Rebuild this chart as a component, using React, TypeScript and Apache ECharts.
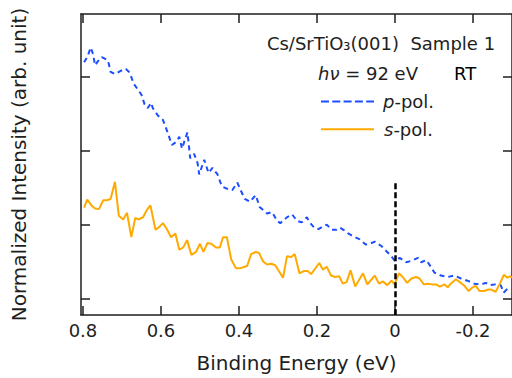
import React, { useEffect, useRef } from 'react';
import * as echarts from 'echarts';

const xTicks = [0.8, 0.6, 0.4, 0.2, 0, -0.2];
const yTicks = [0, 1, 2, 3];
const X_MIN = -0.3;
const X_MAX = 0.805;
const Y_MIN = -0.225;
const Y_MAX = 3.855;

const fermiLevel = 0;
const fermiMarkerTop = 1.56;

const pEnergy = [0.797, 0.789, 0.78, 0.774, 0.769, 0.761, 0.752, 0.744, 0.736, 0.729,
  0.718, 0.701, 0.69, 0.68, 0.67, 0.659, 0.65, 0.642, 0.634, 0.625,
  0.621, 0.608, 0.595, 0.583, 0.572, 0.561, 0.553, 0.546, 0.538, 0.532,
  0.525, 0.515, 0.506, 0.502, 0.489, 0.478, 0.468, 0.455, 0.444, 0.428,
  0.417, 0.404, 0.396, 0.385, 0.372, 0.357, 0.347, 0.336, 0.328, 0.315,
  0.302, 0.294, 0.277, 0.264, 0.251, 0.239, 0.226, 0.217, 0.207, 0.196,
  0.183, 0.175, 0.162, 0.15, 0.141, 0.132, 0.12, 0.107, 0.09, 0.075,
  0.06, 0.052, 0.035, 0.022, 0.009, 0.001, -0.012, -0.029, -0.042, -0.059,
  -0.067, -0.08, -0.088, -0.101, -0.118, -0.135, -0.152, -0.169, -0.186, -0.203,
  -0.22, -0.233, -0.245, -0.258, -0.271, -0.279, -0.288, -0.298];
const pIntensity = [3.2, 3.27, 3.4, 3.31, 3.16, 3.22, 3.27, 3.25, 3.23, 3.07,
  3.04, 3.09, 3.11, 3.06, 2.91, 2.83, 2.76, 2.63, 2.58, 2.65,
  2.58, 2.48, 2.42, 2.25, 2.08, 2.12, 2.19, 2.03, 2.16, 2.25,
  1.9, 1.96, 1.83, 1.68, 1.88, 1.7, 1.77, 1.68, 1.52, 1.48,
  1.47, 1.57, 1.47, 1.35, 1.31, 1.4, 1.24, 1.19, 1.15, 1.17,
  1.05, 1.02, 1.1, 1.14, 1.05, 1.03, 1.1, 1.02, 0.96, 0.94,
  0.98, 1.0, 0.93, 0.93, 0.96, 0.93, 0.88, 0.84, 0.8, 0.73,
  0.75, 0.77, 0.71, 0.64, 0.57, 0.51, 0.55, 0.49, 0.51, 0.55,
  0.49, 0.52, 0.46, 0.35, 0.31, 0.29, 0.31, 0.27, 0.24, 0.2,
  0.19, 0.21, 0.18, 0.19, 0.18, 0.08, 0.13, 0.12];

const sEnergy = [0.797, 0.789, 0.778, 0.769, 0.759, 0.748, 0.738, 0.729, 0.718, 0.708,
  0.697, 0.687, 0.676, 0.666, 0.657, 0.646, 0.636, 0.627, 0.614, 0.604,
  0.595, 0.585, 0.574, 0.563, 0.553, 0.543, 0.533, 0.522, 0.51, 0.5,
  0.491, 0.481, 0.471, 0.459, 0.449, 0.441, 0.431, 0.42, 0.408, 0.396,
  0.379, 0.369, 0.357, 0.349, 0.338, 0.328, 0.317, 0.307, 0.287, 0.277,
  0.266, 0.257, 0.245, 0.234, 0.224, 0.215, 0.194, 0.185, 0.175, 0.164,
  0.154, 0.143, 0.134, 0.124, 0.114, 0.102, 0.082, 0.071, 0.058, 0.052,
  0.041, 0.031, 0.02, 0.009, 0.001, -0.01, -0.02, -0.031, -0.042, -0.054,
  -0.063, -0.074, -0.084, -0.095, -0.105, -0.115, -0.127, -0.135, -0.143, -0.156,
  -0.169, -0.178, -0.189, -0.199, -0.207, -0.217, -0.229, -0.239, -0.247, -0.258,
  -0.269, -0.279, -0.288, -0.295, -0.3];
const sIntensity = [1.23, 1.34, 1.26, 1.22, 1.21, 1.33, 1.33, 1.35, 1.58, 1.12,
  1.07, 1.16, 0.83, 1.09, 1.07, 1.1, 1.2, 1.26, 0.93, 0.97,
  1.02, 0.94, 0.83, 0.88, 0.66, 0.69, 0.79, 0.59, 0.63, 0.74,
  0.63, 0.75, 0.74, 0.69, 0.69, 0.83, 0.83, 0.53, 0.41, 0.41,
  0.44, 0.6, 0.63, 0.62, 0.5, 0.46, 0.47, 0.45, 0.28, 0.57,
  0.56, 0.6, 0.34, 0.37, 0.37, 0.33, 0.48, 0.39, 0.43, 0.31,
  0.29, 0.3, 0.2, 0.22, 0.38, 0.16, 0.34, 0.19, 0.27, 0.31,
  0.2, 0.23, 0.18, 0.24, 0.19, 0.34, 0.29, 0.21, 0.27, 0.29,
  0.27, 0.19, 0.2, 0.19, 0.19, 0.16, 0.19, 0.15, 0.2, 0.26,
  0.21, 0.17, 0.1, 0.15, 0.17, 0.1, 0.1, 0.12, 0.12, 0.09,
  0.2, 0.32, 0.28, 0.3, 0.28];

const BLUE = '#1c4dff';
const ORANGE = '#ffaa00';
const INK = '#1e1e1e';
const FONT = '"DejaVu Sans", sans-serif';

function fmtTick(v: number): string {
  if (Math.abs(v) < 1e-9) return '0';
  return v.toFixed(1);
}

export default function App() {
  const ref = useRef<HTMLDivElement>(null);
  useEffect(() => {
    if (!ref.current) return;
    const chart = echarts.init(ref.current, undefined, { renderer: 'svg' });
    const axisLineStyle = { color: INK, width: 1.5 };
    const xCommon = {
      type: 'value' as const,
      min: X_MIN,
      max: X_MAX,
      inverse: true,
      splitLine: { show: false },
      axisLine: { show: true, onZero: false, lineStyle: axisLineStyle },
      axisTick: { show: true, inside: true, length: 9, customValues: xTicks, lineStyle: axisLineStyle },
    };
    const yCommon = {
      type: 'value' as const,
      min: Y_MIN,
      max: Y_MAX,
      splitLine: { show: false },
      axisLine: { show: true, onZero: false, lineStyle: axisLineStyle },
      axisTick: { show: true, inside: true, length: 9, customValues: yTicks, lineStyle: axisLineStyle },
      axisLabel: { show: false },
    };
    const textBase = { fontFamily: FONT, fontSize: 18, fill: INK };
    chart.setOption({
      animation: false,
      grid: { left: 81, right: -3, top: 14, bottom: 56 },
      xAxis: [
        {
          ...xCommon,
          position: 'bottom',
          axisLabel: {
            customValues: xTicks,
            formatter: (v: number) => fmtTick(v),
            fontFamily: FONT,
            fontSize: 18,
            color: INK,
            margin: 6,
          },
          name: 'Binding Energy (eV)',
          nameLocation: 'middle',
          nameGap: 38,
          nameTextStyle: { fontFamily: FONT, fontSize: 20, color: INK },
        },
        { ...xCommon, position: 'top', axisLabel: { show: false } },
      ],
      yAxis: [
        {
          ...yCommon,
          position: 'left',
          name: 'Normalized Intensity (arb. unit)',
          nameLocation: 'middle',
          nameGap: 52,
          nameTextStyle: { fontFamily: FONT, fontSize: 20, color: INK },
        },
        { ...yCommon, position: 'right' },
      ],
      series: [
        {
          name: 'p-pol.',
          type: 'line',
          xAxisIndex: 0,
          yAxisIndex: 0,
          data: pEnergy.map((e, i) => [e, pIntensity[i]]),
          symbol: 'none',
          lineStyle: { color: BLUE, width: 2, type: [5, 4] },
          z: 3,
        },
        {
          name: 's-pol.',
          type: 'line',
          xAxisIndex: 0,
          yAxisIndex: 0,
          data: sEnergy.map((e, i) => [e, sIntensity[i]]),
          symbol: 'none',
          lineStyle: { color: ORANGE, width: 2 },
          z: 4,
          markLine: {
            silent: true,
            symbol: 'none',
            label: { show: false },
            lineStyle: { color: '#000', width: 2.5, type: [6, 3] },
            data: [[{ coord: [fermiLevel, fermiMarkerTop] }, { coord: [fermiLevel, Y_MIN] }]],
          },
        },
      ],
      graphic: [
        {
          type: 'text',
          x: 381,
          y: 43,
          style: { ...textBase, text: 'Cs/SrTiO₃(001)  Sample 1', align: 'center', verticalAlign: 'middle' },
        },
        {
          type: 'text',
          x: 318,
          y: 73,
          style: {
            ...textBase,
            text: '{i|hν} = 92 eV',
            align: 'left',
            verticalAlign: 'middle',
            rich: { i: { fontFamily: FONT, fontSize: 18, fontStyle: 'italic', fill: INK } },
          },
        },
        {
          type: 'text',
          x: 454,
          y: 73,
          style: { ...textBase, fill: '#000', text: 'RT', align: 'left', verticalAlign: 'middle' },
        },
        {
          type: 'line',
          shape: { x1: 321, y1: 101.5, x2: 374, y2: 101.5 },
          style: { stroke: BLUE, lineWidth: 2, lineDash: [8, 3.3] },
        },
        {
          type: 'text',
          x: 383,
          y: 101,
          style: {
            ...textBase,
            text: '{i|p}-pol.',
            align: 'left',
            verticalAlign: 'middle',
            rich: { i: { fontFamily: FONT, fontSize: 18, fontStyle: 'italic', fill: INK } },
          },
        },
        {
          type: 'line',
          shape: { x1: 321, y1: 129.3, x2: 374, y2: 129.3 },
          style: { stroke: ORANGE, lineWidth: 2 },
        },
        {
          type: 'text',
          x: 384,
          y: 129,
          style: {
            ...textBase,
            text: '{i|s}-pol.',
            align: 'left',
            verticalAlign: 'middle',
            rich: { i: { fontFamily: FONT, fontSize: 18, fontStyle: 'italic', fill: INK } },
          },
        },
      ],
    });
    return () => chart.dispose();
  }, []);
  return (
    <div
      ref={ref}
      style={{ position: 'fixed', left: 0, top: 0, width: 512, height: 378, background: '#fff' }}
    />
  );
}
